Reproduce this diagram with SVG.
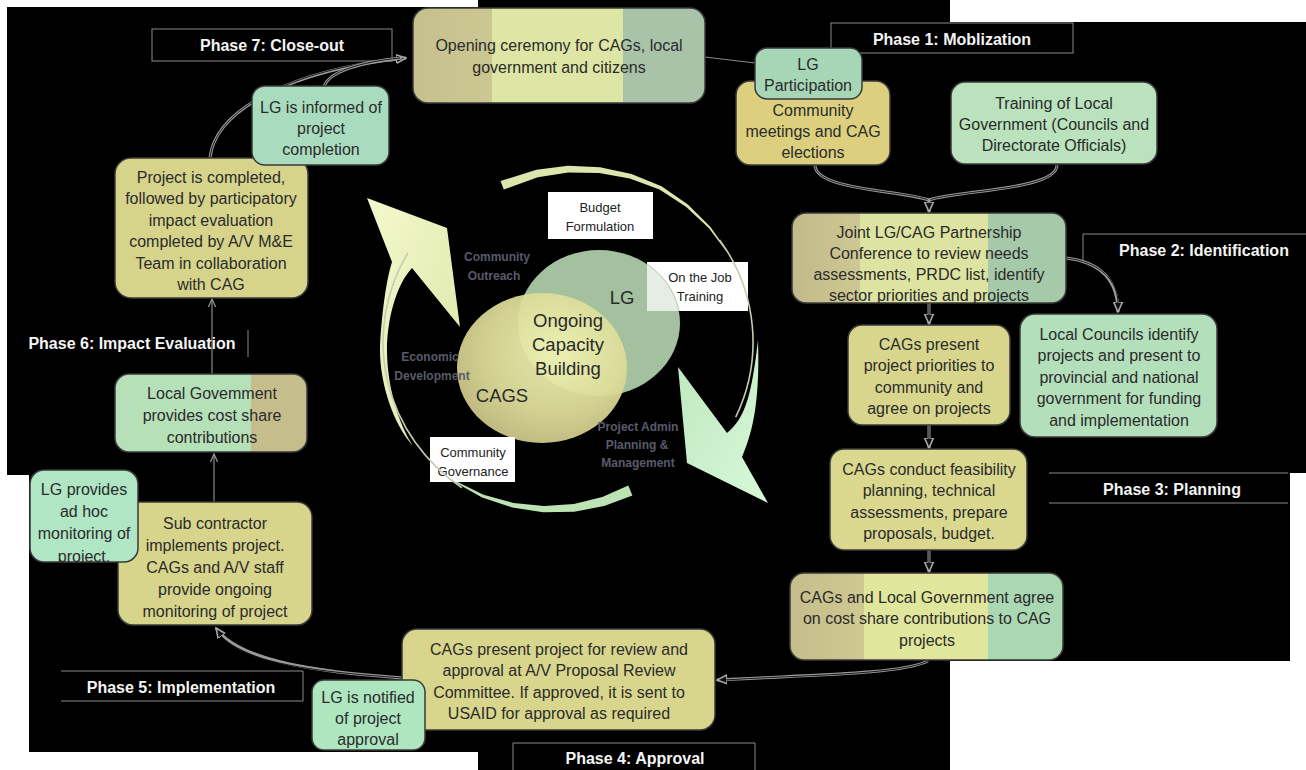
<svg xmlns="http://www.w3.org/2000/svg" width="1306" height="770" viewBox="0 0 1306 770">
<defs>
<style>
.nt{font-family:"Liberation Sans",Arial,sans-serif;font-size:16px;fill:#2b2b2b;text-anchor:middle}
.ph{font-family:"Liberation Sans",Arial,sans-serif;font-weight:bold;font-size:16px;fill:#f4f4f4;text-anchor:middle}
.phl{fill:none;stroke:#8c8c8c;stroke-width:1}
.nb{stroke:#3a3a3a;stroke-width:1.5}
.co{fill:none;stroke:#9a9a9a;stroke-width:3}
.ci{fill:none;stroke:#161616;stroke-width:1}
.cs{fill:none;stroke:#8a8a8a;stroke-width:1.2}
.vt{font-family:"Liberation Sans",Arial,sans-serif;font-size:18.5px;fill:#2a2a2a;text-anchor:middle}
.bt{font-family:"Liberation Sans",Arial,sans-serif;font-size:13px;fill:#222;text-anchor:middle}
.ft{font-family:"Liberation Sans",Arial,sans-serif;font-size:12px;font-weight:bold;fill:#5a5a6a;text-anchor:middle}
</style>
<marker id="ah" viewBox="0 0 10 10" refX="9" refY="5" markerWidth="11" markerHeight="11" markerUnits="userSpaceOnUse" orient="auto">
<path d="M0,1 L9,5 L0,9 Z" fill="#111" stroke="#aaa" stroke-width="1.4"/>
</marker>
<marker id="ah2" viewBox="0 0 10 10" refX="9" refY="5" markerWidth="9" markerHeight="9" markerUnits="userSpaceOnUse" orient="auto">
<path d="M0,1 L9,5 L0,9" fill="none" stroke="#9a9a9a" stroke-width="1.3"/>
</marker>
<linearGradient id="gOpen" x1="0" y1="0" x2="1" y2="0">
<stop offset="0" stop-color="#c6c08e"/><stop offset="0.27" stop-color="#cbc792"/>
<stop offset="0.27" stop-color="#dde6a4"/><stop offset="0.72" stop-color="#dde6a4"/>
<stop offset="0.72" stop-color="#a9c3a8"/><stop offset="1" stop-color="#a9c3a8"/>
</linearGradient>
<linearGradient id="gJoint" x1="0" y1="0" x2="1" y2="0">
<stop offset="0" stop-color="#c2b98a"/><stop offset="0.25" stop-color="#cdc893"/>
<stop offset="0.25" stop-color="#dde3a0"/><stop offset="0.715" stop-color="#dde3a0"/>
<stop offset="0.715" stop-color="#a6c9aa"/><stop offset="1" stop-color="#a6c9aa"/>
</linearGradient>
<linearGradient id="gAgree" x1="0" y1="0" x2="1" y2="0">
<stop offset="0" stop-color="#c6bd8c"/><stop offset="0.27" stop-color="#cec891"/>
<stop offset="0.27" stop-color="#e0e69c"/><stop offset="0.725" stop-color="#e0e69c"/>
<stop offset="0.725" stop-color="#a9d8b2"/><stop offset="1" stop-color="#a9d8b2"/>
</linearGradient>
<linearGradient id="gLocal" x1="0" y1="0" x2="1" y2="0">
<stop offset="0" stop-color="#b5e0b8"/><stop offset="0.71" stop-color="#b5e0b8"/>
<stop offset="0.71" stop-color="#c6bd8c"/><stop offset="1" stop-color="#c6bd8c"/>
</linearGradient>
<linearGradient id="gYArrow" x1="0" y1="0" x2="1" y2="1">
<stop offset="0" stop-color="#f4f9cc"/><stop offset="1" stop-color="#dbe6a8"/>
</linearGradient>
<linearGradient id="gGArrow" x1="0" y1="0" x2="1" y2="1">
<stop offset="0" stop-color="#bfe8bf"/><stop offset="1" stop-color="#d8f8d8"/>
</linearGradient>
<radialGradient id="gCags" cx="0.58" cy="0.4" r="0.65">
<stop offset="0" stop-color="#eef2b2"/><stop offset="0.6" stop-color="#dedd9a"/><stop offset="1" stop-color="#c9c286"/>
</radialGradient>
<clipPath id="cJoint"><rect x="792" y="213" width="274" height="90" rx="14"/></clipPath>
<clipPath id="cLGp"><rect x="30" y="470" width="108" height="92" rx="14"/></clipPath>
<clipPath id="cOjt"><rect x="647" y="262" width="101" height="49"/></clipPath>
</defs>

<rect x="0" y="0" width="1306" height="770" fill="#ffffff"/>
<polygon id="backdrop" points="7,7 478,7 478,0 950,0 950,22 1306,22 1306,473 1290,473 1290,661 950,661 950,770 478,770 478,752 29,752 29,475 7,475" fill="#000"/>

<g id="phase7"><rect class="phl" x="152" y="29" width="240" height="32"/><text class="ph" x="272" y="51">Phase 7: Close-out</text></g>
<g id="phase1"><rect class="phl" x="831" y="23" width="242" height="30"/><text class="ph" x="952" y="45">Phase 1: Moblization</text></g>
<g id="phase2"><path class="phl" d="M1306 234 H1083 V262"/><text class="ph" x="1204" y="256">Phase 2: Identification</text></g>
<g id="phase3"><path class="phl" d="M1049 473 H1288 M1049 503 H1288"/><text class="ph" x="1172" y="495">Phase 3: Planning</text></g>
<g id="phase4"><path class="phl" d="M513 772 V743 H755 V772"/><text class="ph" x="635" y="764">Phase 4: Approval</text></g>
<g id="phase5"><path class="phl" d="M61 671 H303 V701 H61"/><text class="ph" x="181" y="693">Phase 5: Implementation</text></g>
<g id="phase6"><path class="phl" d="M248 330 V357"/><text class="ph" x="132" y="349">Phase 6: Impact Evaluation</text></g>

<g id="cycle">
<polygon points="500.5,181 536.4,169.7 568,165.7 600,167.2 631.5,174 661.5,186.2 687.9,204.5 710.5,226.9 728.6,252.8 727.8,253.3 709,228.2 686,206.8 659.5,189.6 629.8,178.6 599,172.9 568,172.5 537.8,177.3 503.8,189.4" fill="#dce5ac"/>
<polygon points="632.4,495.6 604.2,506.1 574.2,511.7 543.1,512.2 512.2,507.5 482.1,497.4 448.8,478.7 449.4,478 483.5,494.7 513.6,503.1 544,506.1 573.9,503.9 602.3,496.9 628.3,485.4" fill="#bde2b4"/>
<path d="M 460 327 L 447 228 L 367 198 L 392 262 C 386 280, 381 320, 380 350 C 380 385, 394 425, 413 446 C 398 423, 387 385, 387 350 C 387 320, 396 285, 412 268 Z" fill="url(#gYArrow)"/>
<path d="M 678 367 L 687 463 L 768 503 L 742 457 C 753 432, 760 400, 758 340 C 752 392, 746 418, 727 433 Z" fill="url(#gGArrow)"/>
</g>

<g id="box-budget"><rect x="548" y="192" width="105" height="47" fill="#fff"/><text class="bt" x="600" y="212">Budget</text><text class="bt" x="600" y="231">Formulation</text></g>

<g id="venn">
<ellipse cx="599" cy="323" rx="81" ry="73" fill="#a3c09f"/>
<ellipse cx="542" cy="368" rx="85" ry="75" fill="url(#gCags)" fill-opacity="0.95"/>
<text class="vt" x="622" y="304">LG</text>
<text class="vt" x="568" y="327">Ongoing</text>
<text class="vt" x="568" y="351">Capacity</text>
<text class="vt" x="568" y="375">Building</text>
<text class="vt" x="502" y="402">CAGS</text>
</g>

<g id="labels-faint">
<text class="ft" x="497" y="261">Community</text>
<text class="ft" x="494" y="280">Outreach</text>
<text class="ft" x="430" y="361">Economic</text>
<text class="ft" x="432" y="380">Development</text>
<text class="ft" x="638" y="431">Project Admin</text>
<text class="ft" x="637" y="449">Planning &amp;</text>
<text class="ft" x="638" y="467">Management</text>
</g>

<g id="box-ojt"><rect x="647" y="262" width="101" height="49" fill="#fff"/>
<ellipse cx="599" cy="323" rx="81" ry="73" fill="#a3c09f" fill-opacity="0.28" stroke="#9fb89b" stroke-width="0.8" clip-path="url(#cOjt)"/>
<text class="bt" x="700" y="282">On the Job</text><text class="bt" x="700" y="301">Training</text></g>
<g id="box-gov"><rect x="430" y="437" width="85" height="45" fill="#fff"/><text class="bt" x="473" y="457">Community</text><text class="bt" x="473" y="476">Governance</text></g>

<g id="ring" fill="none" stroke="#c4ccb4" stroke-width="1.6">
<path d="M 719.6 239.9 A 185 178 0 0 1 735.7 417.2"/>
<path d="M 461.9 487.8 A 185 178 0 0 1 407.8 253"/>
</g>

<g id="connectors">
<path class="co" d="M 210 158 C 215 110, 290 70, 406 58" marker-end="url(#ah)"/>
<path class="ci" d="M 210 158 C 215 110, 290 70, 400 58"/>
<path class="co" d="M 324 87 C 328 72, 360 62, 402 58"/>
<path class="ci" d="M 324 87 C 328 72, 360 62, 400 58"/>
<path class="cs" d="M 705 57 L 755 63"/>
<path class="co" d="M 815 165 C 815 190, 900 190, 929 200"/>
<path class="ci" d="M 815 165 C 815 190, 900 190, 929 200"/>
<path class="co" d="M 1057 165 C 1057 190, 960 190, 929 200"/>
<path class="ci" d="M 1057 165 C 1057 190, 960 190, 929 200"/>
<path class="co" d="M 929 199 L 929 212" marker-end="url(#ah)"/>
<path class="co" d="M 929 303 L 929 324" marker-end="url(#ah)"/>
<path class="ci" d="M 929 303 L 929 316"/>
<path class="co" d="M 929 425 L 929 448" marker-end="url(#ah)"/>
<path class="ci" d="M 929 425 L 929 440"/>
<path class="co" d="M 929 550 L 929 572" marker-end="url(#ah)"/>
<path class="ci" d="M 929 550 L 929 564"/>
<path class="co" d="M 1066 258 C 1100 262, 1118 280, 1118 312" marker-end="url(#ah)"/>
<path class="ci" d="M 1066 258 C 1100 262, 1118 280, 1118 304"/>
<path class="co" d="M 928 661 C 900 675, 800 675, 717 680" marker-end="url(#ah)"/>
<path class="ci" d="M 928 661 C 900 675, 800 675, 725 680"/>
<path class="co" d="M 403 678 C 320 672, 240 662, 216 628" marker-end="url(#ah)"/>
<path class="ci" d="M 403 678 C 320 672, 245 664, 221 636"/>
<path class="cs" d="M 212 374 L 212 299" marker-end="url(#ah2)"/>
<path class="cs" d="M 214 502 L 214 454" marker-end="url(#ah2)"/>
</g>

<g id="n-opening"><rect class="nb" x="413" y="8" width="292" height="95" rx="15" fill="url(#gOpen)"/>
<text class="nt" x="559" y="51">Opening ceremony for CAGs, local</text><text class="nt" x="559" y="73">government and citizens</text></g>

<g id="n-community"><rect class="nb" x="736" y="81" width="154" height="84" rx="14" fill="#dcd07e"/>
<text class="nt" x="813" y="115.5">Community</text><text class="nt" x="813" y="136.5">meetings and CAG</text><text class="nt" x="813" y="157.5">elections</text></g>

<g id="n-lgpart"><rect class="nb" x="755" y="48" width="107" height="51" rx="12" fill="#a6d6b6"/>
<text class="nt" x="808" y="70">LG</text><text class="nt" x="808" y="91">Participation</text></g>

<g id="n-training"><rect class="nb" x="951" y="82" width="206" height="82" rx="14" fill="#b9e2bd"/>
<text class="nt" x="1054" y="108.5">Training of Local</text><text class="nt" x="1054" y="129.5">Government (Councils and</text><text class="nt" x="1054" y="151">Directorate Officials)</text></g>

<g id="n-joint"><rect class="nb" x="792" y="213" width="274" height="90" rx="14" fill="url(#gJoint)"/>
<g clip-path="url(#cJoint)"><text class="nt" x="929" y="237.5">Joint LG/CAG Partnership</text><text class="nt" x="929" y="258.5">Conference to review needs</text><text class="nt" x="929" y="279.5">assessments, PRDC list, identify</text><text class="nt" x="929" y="300.5">sector priorities and projects</text></g></g>

<g id="n-present"><rect class="nb" x="848" y="325" width="162" height="100" rx="14" fill="#d8d68c"/>
<text class="nt" x="929" y="349.5">CAGs present</text><text class="nt" x="929" y="371">project priorities to</text><text class="nt" x="929" y="392.5">community and</text><text class="nt" x="929" y="414">agree on projects</text></g>

<g id="n-councils"><rect class="nb" x="1020" y="314" width="197" height="123" rx="15" fill="#b3dfbb"/>
<text class="nt" x="1119" y="339.5">Local Councils identify</text><text class="nt" x="1119" y="361">projects and present to</text><text class="nt" x="1119" y="382.5">provincial and national</text><text class="nt" x="1119" y="404">government for funding</text><text class="nt" x="1119" y="425.5">and implementation</text></g>

<g id="n-feas"><rect class="nb" x="830" y="449" width="197" height="101" rx="14" fill="#d9d88e"/>
<text class="nt" x="929" y="474.5">CAGs conduct feasibility</text><text class="nt" x="929" y="496">planning, technical</text><text class="nt" x="929" y="517.5">assessments, prepare</text><text class="nt" x="929" y="539">proposals, budget.</text></g>

<g id="n-agree"><rect class="nb" x="790" y="573" width="273" height="87" rx="14" fill="url(#gAgree)"/>
<text class="nt" x="927" y="602.5">CAGs and Local Government agree</text><text class="nt" x="927" y="624">on cost share contributions to CAG</text><text class="nt" x="927" y="645.5">projects</text></g>

<g id="n-approval"><rect class="nb" x="402" y="629" width="313" height="101" rx="15" fill="#d8d68c"/>
<text class="nt" x="559" y="654.5">CAGs present project for review and</text><text class="nt" x="559" y="676">approval at A/V Proposal Review</text><text class="nt" x="559" y="697.5">Committee. If approved, it is sent to</text><text class="nt" x="559" y="719">USAID for approval as required</text></g>

<g id="n-notified"><rect class="nb" x="312" y="680" width="113" height="70" rx="12" fill="#aee6c0"/>
<text class="nt" x="368" y="702.5">LG is notified</text><text class="nt" x="368" y="723.5">of project</text><text class="nt" x="368" y="745">approval</text></g>

<g id="n-sub"><rect class="nb" x="118" y="502" width="194" height="123" rx="15" fill="#d7d48b"/>
<text class="nt" x="215" y="528.5">Sub contractor</text><text class="nt" x="215" y="550.5">implements project.</text><text class="nt" x="215" y="572.5">CAGs and A/V staff</text><text class="nt" x="215" y="595">provide ongoing</text><text class="nt" x="215" y="617">monitoring of project</text></g>

<g id="n-lgprov"><rect class="nb" x="30" y="470" width="108" height="92" rx="14" fill="#b0e6c4"/>
<g clip-path="url(#cLGp)"><text class="nt" x="84" y="494.5">LG provides</text><text class="nt" x="84" y="516.5">ad hoc</text><text class="nt" x="84" y="538.5">monitoring of</text><text class="nt" x="84" y="561.5">project.</text></g></g>

<g id="n-localgov"><rect class="nb" x="115" y="374" width="192" height="78" rx="14" fill="url(#gLocal)"/>
<text class="nt" x="212" y="398.5">Local Govemment</text><text class="nt" x="212" y="420.5">provides cost share</text><text class="nt" x="212" y="442.5">contributions</text></g>

<g id="n-completed"><rect class="nb" x="115" y="158" width="193" height="140" rx="16" fill="#d6d48b"/>
<text class="nt" x="211" y="182.5">Project is completed,</text><text class="nt" x="211" y="204">followed by participatory</text><text class="nt" x="211" y="225.5">impact evaluation</text><text class="nt" x="211" y="247">completed by A/V M&amp;E</text><text class="nt" x="211" y="268.5">Team in collaboration</text><text class="nt" x="211" y="290">with CAG</text></g>

<g id="n-informed"><rect class="nb" x="252" y="86" width="137" height="79" rx="13" fill="#a9dcbf"/>
<text class="nt" x="321" y="112.5">LG is informed of</text><text class="nt" x="321" y="133.5">project</text><text class="nt" x="321" y="154.5">completion</text></g>
</svg>
